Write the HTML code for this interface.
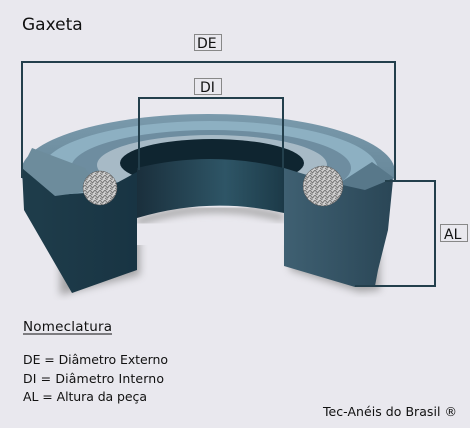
<!DOCTYPE html>
<html><head><meta charset="utf-8"><style>
body{margin:0;background:#e9e8ee;}
svg{display:block}
text{font-family:"DejaVu Sans","Liberation Sans",sans-serif;}
</style></head><body>
<svg width="470" height="428" viewBox="0 0 470 428" xmlns="http://www.w3.org/2000/svg">
<defs>
<linearGradient id="wall" x1="0" x2="1" y1="0" y2="0">
<stop offset="0" stop-color="#1a2f3c"/><stop offset="0.6" stop-color="#2e5566"/><stop offset="1" stop-color="#1c3a48"/></linearGradient>
<linearGradient id="topg" x1="0" x2="0" y1="0" y2="1">
<stop offset="0" stop-color="#7a9aac"/><stop offset="1" stop-color="#5a7a8c"/></linearGradient>
<linearGradient id="lb" x1="0" x2="1"><stop offset="0" stop-color="#1f3d4b"/><stop offset="1" stop-color="#183443"/></linearGradient>
<linearGradient id="rb" x1="0" x2="1"><stop offset="0" stop-color="#3f6072"/><stop offset="1" stop-color="#2a4656"/></linearGradient>
<pattern id="mesh" width="5" height="5" patternUnits="userSpaceOnUse">
<rect width="5" height="5" fill="#cfcfcf"/><path d="M0 0L2.5 3L5 0M0 3L2.5 5" stroke="#777" stroke-width="1" fill="none"/></pattern>
<filter id="bl"><feGaussianBlur stdDeviation="4"/></filter>
</defs>
<text x="22" y="30" font-size="17" fill="#111">Gaxeta</text>
<!-- shadows -->
<path d="M60 295 L140 275 L140 240 L60 260 Z" fill="#888" filter="url(#bl)" opacity="0.7"/>
<path d="M290 270 L360 292 L380 290 L380 250 L290 240 Z" fill="#888" filter="url(#bl)" opacity="0.7"/>
<!-- top ring surface -->
<ellipse cx="208" cy="172" rx="187" ry="58" fill="url(#topg)"/>
<ellipse cx="210" cy="170" rx="168" ry="49" fill="#8db0c2"/>
<ellipse cx="211" cy="168" rx="140" ry="38" fill="#6e8da0"/>
<ellipse cx="212" cy="165" rx="115" ry="30" fill="#a7bac6"/>
<ellipse cx="212" cy="163" rx="92" ry="24" fill="#0f2530"/>
<!-- cut away front -->
<path d="M130 218 Q210 192 290 213 L290 245 L130 245 Z" fill="#e9e8ee"/>
<path d="M137 222 Q210 198 284 218" stroke="#999" stroke-width="6" fill="none" filter="url(#bl)"/>
<!-- inner wall -->
<path d="M137 168 Q210 150 284 168 L284 213 Q210 196 137 218 Z" fill="url(#wall)"/>
<!-- left block -->
<path d="M22 168 L55 195 L100 192 L137 172 L137 270 L72 293 L50 255 L24 210 Z" fill="url(#lb)"/>
<path d="M22 168 L32 148 L85 168 L100 190 L55 196 Z" fill="#6d8c9c"/>
<!-- right block -->
<path d="M284 168 L340 185 L372 170 L393 180 L388 230 L378 270 L375 286 L355 287 L284 266 Z" fill="url(#rb)"/>
<path d="M338 184 L372 162 L394 178 L365 190 Z" fill="#58788a"/>
<!-- cross sections -->
<circle cx="100" cy="188" r="17" fill="url(#mesh)" stroke="#555" stroke-width="0.5"/>
<circle cx="323" cy="186" r="20" fill="url(#mesh)" stroke="#555" stroke-width="0.5"/>
<!-- dimension lines -->
<g fill="none" stroke="#233f4c" stroke-width="2">
<path d="M22 178 L22 62 L395 62 L395 182"/>
<path d="M139 170 L139 98 L283 98 L283 168"/>
<path d="M385 181 L435 181 L435 286 L355 286"/>
</g>
<g font-size="14" fill="#111">
<rect x="194.5" y="34.5" width="27" height="16" fill="#e9e8ee" stroke="#888"/>
<text x="197" y="48">DE</text>
<rect x="194.5" y="78.5" width="27" height="16" fill="#e9e8ee" stroke="#888"/>
<text x="200" y="92">DI</text>
<rect x="440.5" y="224.5" width="27" height="17" fill="#e9e8ee" stroke="#888"/>
<text x="444" y="239">AL</text>
</g>
<g font-size="12.5" fill="#111">
<text x="23" y="331" font-size="13.5" textLength="89">Nomeclatura</text>
<line x1="23" y1="334" x2="112" y2="334" stroke="#111" stroke-width="1"/>
<text x="23" y="364" textLength="145">DE = Diâmetro Externo</text>
<text x="23" y="383" textLength="141">DI =  Diâmetro Interno</text>
<text x="23" y="401" textLength="124">AL = Altura da peça</text>
<text x="323" y="416" textLength="134">Tec-Anéis do Brasil ®</text>
</g>
</svg>
</body></html>
